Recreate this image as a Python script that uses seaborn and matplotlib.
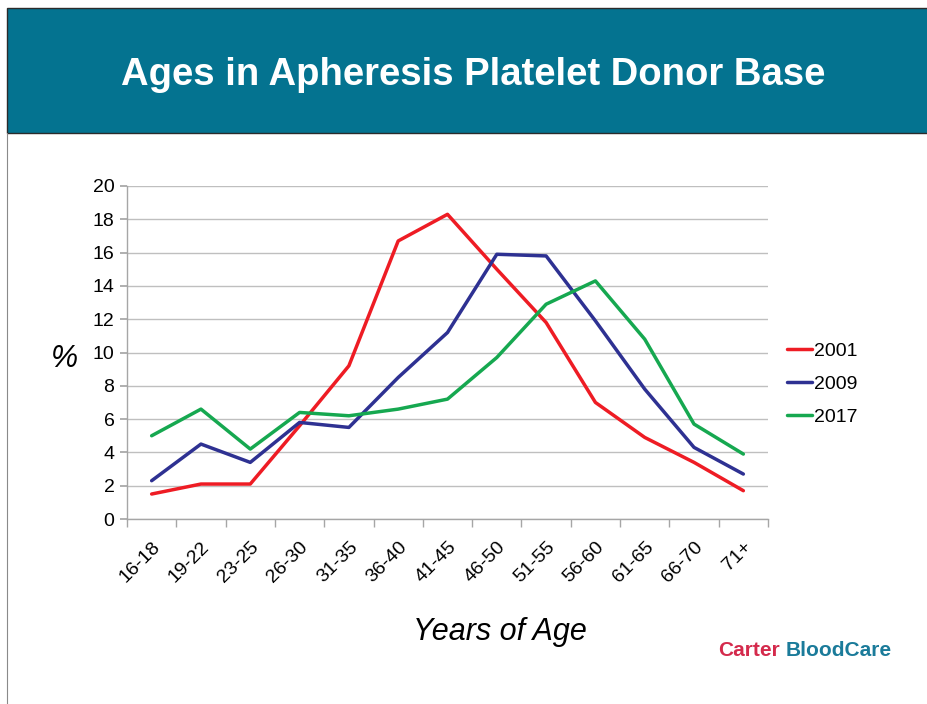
import matplotlib
matplotlib.use("Agg")
import matplotlib.pyplot as plt
import matplotlib.patches as mpatches
from matplotlib.ticker import FixedLocator
import numpy as np
import pandas as pd
import seaborn as sns

age_groups = ["16-18", "19-22", "23-25", "26-30", "31-35", "36-40", "41-45",
              "46-50", "51-55", "56-60", "61-65", "66-70", "71+"]
vals_2001 = [1.5, 2.1, 2.1, 5.6, 9.2, 16.7, 18.3, 15.0, 11.8, 7.0, 4.9, 3.4, 1.7]
vals_2009 = [2.3, 4.5, 3.4, 5.8, 5.5, 8.5, 11.2, 15.9, 15.8, 11.9, 7.8, 4.3, 2.7]
vals_2017 = [5.0, 6.6, 4.2, 6.4, 6.2, 6.6, 7.2, 9.7, 12.9, 14.3, 10.8, 5.7, 3.9]
years = ["2001", "2009", "2017"]
colors = {"2001": "#EE1C24", "2009": "#2E3192", "2017": "#16A850"}

rows = []
for yr, vals in zip(years, [vals_2001, vals_2009, vals_2017]):
    for i, (g, v) in enumerate(zip(age_groups, vals)):
        rows.append({"pos": i, "age": g, "year": yr, "pct": v})
df = pd.DataFrame(rows)

sns.set_theme(style="white")
plt.rcParams["font.family"] = ["Liberation Sans", "DejaVu Sans"]
plt.rcParams["text.color"] = "black"
plt.rcParams["axes.labelcolor"] = "black"
plt.rcParams["xtick.color"] = "black"
plt.rcParams["ytick.color"] = "black"

fig = plt.figure(figsize=(9.28, 7.04), dpi=100)
fig.patch.set_facecolor("white")

# header band
band = mpatches.Rectangle((7 / 928, 1 - 133 / 704), 1, (133 - 8) / 704,
                          transform=fig.transFigure, facecolor="#047390",
                          edgecolor="#2b2b2b", linewidth=1.0, zorder=0)
fig.patches.append(band)
fig.add_artist(plt.Line2D([7 / 928, 7 / 928], [0, 1 - 133 / 704],
                          transform=fig.transFigure, color="#8a8a8a", lw=0.8))
fig.text(473 / 928, 1 - 75 / 704, "Ages in Apheresis Platelet Donor Base",
         ha="center", va="center", color="white", fontsize=27.5,
         fontweight="bold")

ax = fig.add_axes([127 / 928, 1 - 519 / 704, (768 - 127) / 928, (519 - 186) / 704])
sns.lineplot(data=df, x="pos", y="pct", hue="year", palette=colors,
             linewidth=2.5, ax=ax, legend=True)

ax.set_xlim(-0.5, 12.5)
ax.set_ylim(0, 20)
ax.set_yticks(np.arange(0, 21, 2))
ax.yaxis.grid(True, color="#BFBFBF", linewidth=1.0)
ax.xaxis.grid(False)
for s in ["top", "right"]:
    ax.spines[s].set_visible(False)
for s in ["left", "bottom"]:
    ax.spines[s].set_color("#A6A6A6")
    ax.spines[s].set_linewidth(1.0)

ax.set_xticks(range(len(age_groups)))
ax.set_xticklabels(age_groups, rotation=45, ha="right", rotation_mode="anchor",
                   fontsize=14, color="black")
ax.xaxis.set_minor_locator(FixedLocator(np.arange(-0.5, 13, 1)))
ax.tick_params(axis="x", which="major", length=0, pad=14)
ax.tick_params(axis="x", which="minor", length=6, color="#A6A6A6", direction="out", bottom=True)
ax.tick_params(axis="y", which="major", length=5, color="#A6A6A6", direction="out",
               labelsize=14, labelcolor="black", left=True, pad=4)

ax.set_xlabel("Years of Age", fontsize=22, fontstyle="italic", va="center", color="black")
ax.xaxis.set_label_coords((500 - 127) / 641, (519 - 632) / 333)
ax.set_ylabel("%", fontsize=22, fontstyle="italic", rotation=0,
              va="center", color="black")
ax.yaxis.set_label_coords(-0.098, 0.48)

handles, labels = ax.get_legend_handles_labels()
leg = ax.legend(handles, labels, loc="center left", bbox_to_anchor=(1.002, 0.405),
                frameon=False, fontsize=14, handlelength=1.3, handletextpad=0.1,
                labelspacing=0.78)
for t in leg.get_texts():
    t.set_color("black")

fig.text(718 / 928, 1 - 651 / 704, "Carter", color="#D42A4C", fontsize=15,
         fontweight="bold", va="center", ha="left")
fig.text(786 / 928, 1 - 651 / 704, "BloodCare", color="#1B7B9A", fontsize=15,
         fontweight="bold", va="center", ha="left")

fig.savefig("out.png", dpi=100, facecolor="white")
